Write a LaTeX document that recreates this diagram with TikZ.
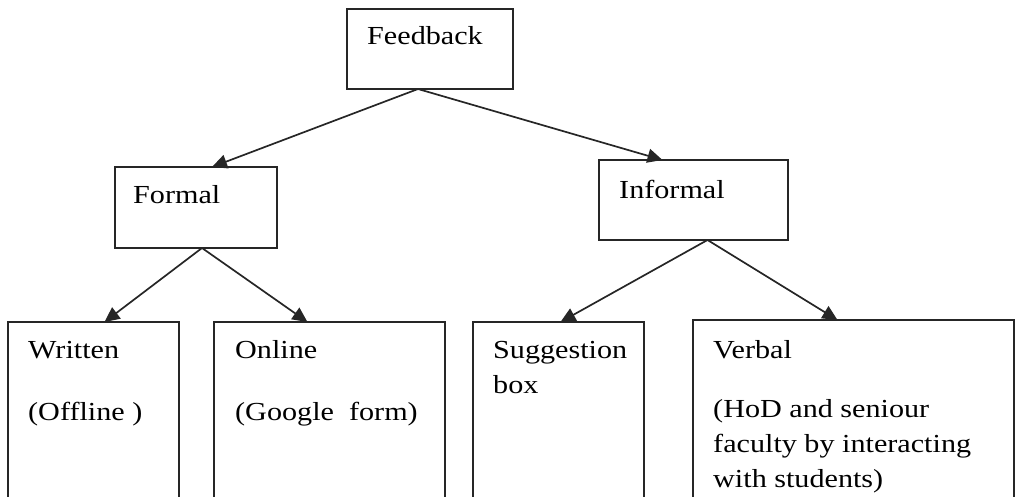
\documentclass[tikz,border=0pt]{standalone}
\usepackage{fontspec}
\setmainfont{Liberation Serif}[FakeStretch=1.16]
\usetikzlibrary{arrows.meta}
\definecolor{ln}{HTML}{262626}
\tikzset{
  box/.style={draw=ln, line width=1.8pt, fill=none, inner sep=0pt, outer sep=0pt, anchor=north west},
  txt/.style={anchor=base west, inner sep=0pt, font=\fontsize{26pt}{35pt}\selectfont},
  arr/.style={draw=ln, line width=1.7pt, -{Triangle[length=15pt,width=14pt]}}
}
\begin{document}
\begin{tikzpicture}[x=1pt,y=-1pt]
\useasboundingbox (0,0) rectangle (1016,497);
\clip (0,0) rectangle (1016,497);
% boxes
\node[box, minimum width=166pt, minimum height=80pt] (fb) at (347,9) {};
\node[box, minimum width=162pt, minimum height=81pt] (fo) at (115,167) {};
\node[box, minimum width=189pt, minimum height=80pt] (inf) at (599,160) {};
\node[box, minimum width=171pt, minimum height=200pt] (wr) at (8,322) {};
\node[box, minimum width=231pt, minimum height=200pt] (on) at (214,322) {};
\node[box, minimum width=171pt, minimum height=200pt] (sg) at (473,322) {};
\node[box, minimum width=321pt, minimum height=200pt] (vb) at (693,320) {};
% texts
\node[txt] (tfb) at (367,45) {Feedback};
\node[txt] (tfo) at (133,203) {Formal};
\node[txt] (tinf) at (619,198) {Informal};
\node[txt] (twr) at (28,358) {Written};
\node[txt] (twr2) at (28,420) {(Offline )};
\node[txt] (ton) at (235,358) {Online};
\node[txt] (ton2) at (235,420) {(Google\ \ form)};
\node[txt] (tsg) at (493,358) {Suggestion};
\node[txt] (tsg2) at (493,393) {box};
\node[txt] (tvb) at (713,358) {Verbal};
\node[txt] (tvb2) at (713,417) {(HoD and seniour};
\node[txt] (tvb3) at (713,452) {faculty by interacting};
\node[txt] (tvb4) at (713,487) {with students)};
% arrows
\draw[arr] ([xshift=-12pt]fb.south) -- ([xshift=16pt]fo.north);
\draw[arr] ([xshift=-12pt]fb.south) -- ([xshift=-31pt]inf.north);
\draw[arr] ([xshift=6pt]fo.south) -- ([xshift=11pt]wr.north);
\draw[arr] ([xshift=6pt]fo.south) -- ([xshift=-22pt]on.north);
\draw[arr] ([xshift=14pt]inf.south) -- ([xshift=2pt]sg.north);
\draw[arr] ([xshift=14pt]inf.south) -- ([xshift=-16pt]vb.north);
\end{tikzpicture}
\end{document}
